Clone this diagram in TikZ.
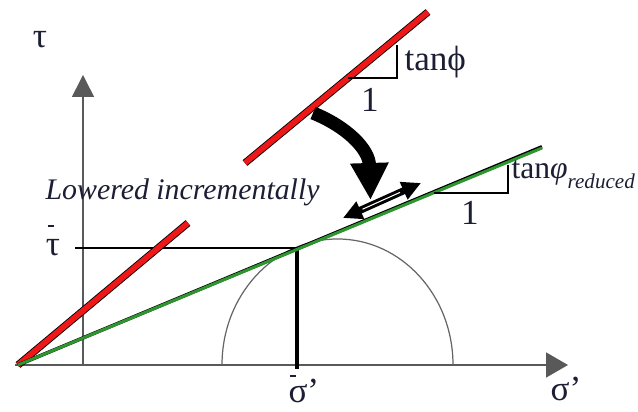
\documentclass[tikz,border=0pt]{standalone}
\usepackage{fontspec}
\setmainfont{Liberation Serif}
\usetikzlibrary{arrows.meta}
\definecolor{envred}{RGB}{238,24,24}
\definecolor{envgreen}{RGB}{46,150,46}
\definecolor{inktext}{RGB}{28,30,52}
\tikzset{
  axisline/.style={draw=black!65, line width=0.9pt},
  bigfont/.style={font=\fontsize{20}{24}\selectfont, text=inktext, inner sep=0pt},
  slopebox/.style={line width=1.4pt, line join=miter},
  barmark/.style={draw=inktext, line width=0.9pt}
}
\begin{document}
\begin{tikzpicture}[line width=0.6pt]
  \useasboundingbox (0,0) rectangle (12.760,8.240);
  \coordinate (O) at (0.360,0.940);
  \coordinate (T) at (5.940,3.280);
  \coordinate (Tt) at (1.500,3.280);
  \coordinate (Sb) at (5.940,0.860);
  \draw[axisline, -{Triangle[length=0.44cm, width=0.44cm]}] (1.660,0.940) -- (1.660,6.740);
  \draw[axisline, -{Triangle[length=0.44cm, width=0.50cm]}] (0.300,0.940) -- (11.360,0.940);
  \draw[black!60, line width=0.7pt] (4.440,0.940) arc[start angle=180, end angle=0, x radius=2.310, y radius=2.520];
  \draw[line width=1.4pt] (Tt) -- (T);
  \draw[line width=1.8pt] (T) -- (Sb);
  \draw[black, line width=4.2pt] (O) -- (3.760,3.780);
  \draw[envred, line width=3.2pt] (O) -- (3.760,3.780);
  \draw[black, line width=4.2pt] (4.900,4.980) -- (8.560,8.000);
  \draw[envred, line width=3.2pt] (4.900,4.980) -- (8.560,8.000);
  \draw[black, line width=2.0pt, yshift=0.7pt] (O) -- (10.840,5.280);
  \draw[envgreen, line width=1.7pt] (O) -- (10.840,5.280);
  \draw[slopebox] (6.960,6.680) -- (7.940,6.680) -- (7.940,7.340);
  \draw[slopebox] (8.670,4.380) -- (10.160,4.380) -- (10.160,4.940);
  \draw[line width=7.5pt, -{Triangle[length=0.74cm, width=0.72cm]}] (6.260,5.980) .. controls (6.950,5.700) and (7.380,5.250) .. (7.410,4.240);
  \draw[line width=4pt, {Triangle[length=0.38cm, width=0.36cm]}-{Triangle[length=0.38cm, width=0.36cm]}] (6.860,3.880) -- (8.420,4.580);
  \draw[white, line width=0.6pt] (7.250,4.055) -- (8.000,4.392);
  \node[bigfont] (tauax) at (0.800,7.440) {τ};
  \node[bigfont] (taubar) at (1.060,3.280) {τ};
  \draw[barmark] (0.950,3.720) -- (1.070,3.720);
  \node[bigfont, anchor=base] (sigax) at (11.320,0.220) {σ'};
  \node[bigfont, anchor=base west] (sigbar) at (5.760,0.180) {σ'};
  \draw[barmark] (5.800,0.720) -- (5.920,0.720);
  \node[bigfont, anchor=west] (tanup) at (8.080,7.000) {tanϕ};
  \node[bigfont] (oneup) at (7.400,6.240) {1};
  \node[bigfont, font=\fontsize{18}{22}\selectfont, anchor=west] (tanlow) at (10.220,4.740) {tan\textit{φ}\raisebox{-0.32em}{\fontsize{12}{14}\selectfont\itshape reduced}};
  \node[bigfont] (onelow) at (9.400,3.980) {1};
  \node[font=\fontsize{17}{20}\selectfont\itshape, text=inktext, inner sep=0pt, anchor=west] (lowered) at (0.900,4.400) {Lowered incrementally};
\end{tikzpicture}
\end{document}
